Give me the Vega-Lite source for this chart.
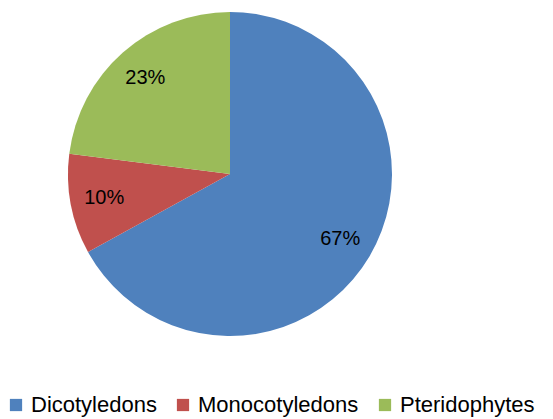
{
  "$schema": "https://vega.github.io/schema/vega-lite/v6.json",
  "width": 553,
  "height": 419,
  "autosize": "none",
  "padding": 0,
  "background": "white",
  "config": {"view": {"stroke": null}, "font": "Liberation Sans"},
  "data": {"values": [
    {"group": "Dicotyledons", "value": 67, "label": "67%", "order": 1},
    {"group": "Monocotyledons", "value": 10, "label": "10%", "order": 2},
    {"group": "Pteridophytes", "value": 23, "label": "23%", "order": 3}
  ]},
  "encoding": {
    "theta": {"field": "value", "type": "quantitative", "stack": true},
    "order": {"field": "order", "type": "quantitative"}
  },
  "layer": [
    {"mark": {"type": "arc", "x": 230, "y": 174, "outerRadius": 162, "strokeWidth": 0},
     "encoding": {
      "color": {
        "field": "group", "type": "nominal",
        "scale": {"domain": ["Dicotyledons", "Monocotyledons", "Pteridophytes"], "range": ["#4F81BD", "#C0504D", "#9BBB59"]},
        "legend": {
          "title": null, "orient": "none", "direction": "horizontal",
          "legendX": 5, "legendY": 394, "padding": 0,
          "symbolType": "square", "symbolSize": 150, "symbolStrokeWidth": 0,
          "labelFontSize": 22, "labelColor": "#000000", "labelFont": "Liberation Sans", "labelLimit": 400,
          "columnPadding": 15, "symbolOffset": 0, "labelOffset": 4
        }
      }
     }},
    {"mark": {"type": "text", "x": 230, "y": 174, "radius": 128, "fontSize": 20, "fill": "#000000", "font": "Liberation Sans"},
     "encoding": {"text": {"field": "label", "type": "nominal"}}}
  ]
}
